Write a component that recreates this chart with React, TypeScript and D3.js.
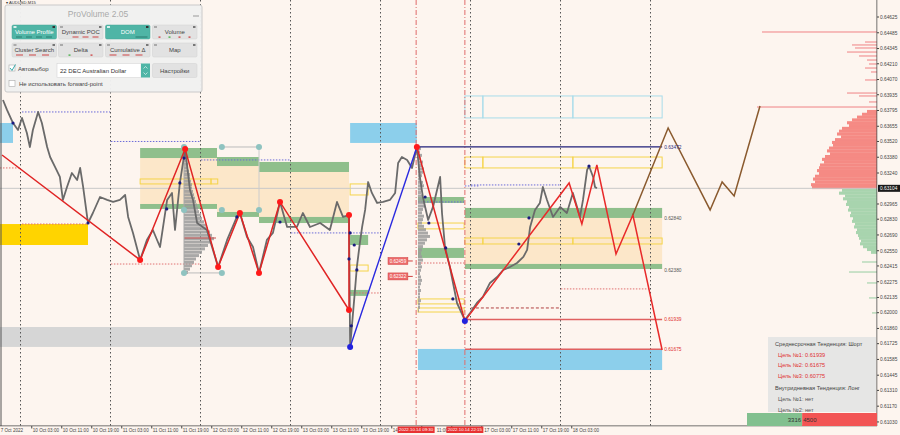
import React from 'react';
import * as d3 from 'd3';

// ---------- DATA ----------
const priceHours = [-4.67,-3.6,-2.0,-0.67,0.4,1.7,2.5,3.3,4.7,5.7,7.1,7.9,9.2,10.5,11.3,12.4,13.7,15.1,15.9,16.7,18.0,19.3,21.2,23.1,24.7,26.5,27.9,28.7,30.0,31.9,33.7,35.3,37.2,39.1,40.4,41.2,42.5,43.9,45.2,46.0,47.1,49.7,52.7,55.1,57.7,58.5,60.4,62.0,63.6,65.7,67.3,69.2,71.1,73.7,75.3,77.2,79.9,82.5,84.4,86.0,87.6,87.9,89.2,89.7,90.5,91.1,91.9,92.7,93.7,95.1,96.7,98.5,99.9,100.7,101.7,103.1,104.4,105.7,106.5,107.3,108.7,110.0,111.9,112.4,113.2,114.5,116.4,118.5,119.9,121.7,123.3,125.2,127.1,128.7,130.5,132.4,134.1,135.1,135.9,137.2,138.5,139.3,140.4,142.0,143.9,145.7,147.3,149.2,150.0,151.1,151.6,152.7,153.2,153.7];
const priceValues = [0.63888,0.63800,0.63684,0.63622,0.63729,0.63595,0.63471,0.63622,0.63782,0.63684,0.63471,0.63382,0.63294,0.63205,0.63001,0.63116,0.63240,0.63178,0.63285,0.63116,0.62796,0.62885,0.63027,0.63001,0.62983,0.63001,0.63045,0.62850,0.62708,0.62468,0.62646,0.62734,0.62583,0.63001,0.63063,0.62734,0.63152,0.63453,0.63089,0.63001,0.62796,0.62734,0.62406,0.62646,0.62850,0.62885,0.62672,0.62583,0.62353,0.62646,0.62708,0.62983,0.62761,0.62761,0.62885,0.62761,0.62796,0.62734,0.62983,0.62850,0.62867,0.61696,0.62202,0.62406,0.62619,0.62761,0.62912,0.63160,0.63063,0.62974,0.62983,0.63001,0.63063,0.63329,0.63382,0.63356,0.63285,0.63471,0.63205,0.63027,0.62823,0.62939,0.63205,0.62885,0.62583,0.62406,0.62086,0.61935,0.61998,0.62086,0.62140,0.62264,0.62317,0.62379,0.62406,0.62441,0.62495,0.62557,0.62761,0.62912,0.62974,0.63116,0.63001,0.62850,0.62939,0.62885,0.63063,0.62850,0.63001,0.63267,0.63302,0.63205,0.63116,0.63104];
const currentPrice = 0.63104;

const dayLineHours = [0,24,48,72,96,120,144,168];
const tickHours = [3,11,19,27,35,43,51,59,67,75,83,91,99,107,115,123,131,139,147];
const tickLabels = ["10 Oct 03:00","10 Oct 11:00","10 Oct 19:00","11 Oct 03:00","11 Oct 11:00","11 Oct 19:00","12 Oct 03:00","12 Oct 11:00","12 Oct 19:00","13 Oct 03:00","13 Oct 11:00","13 Oct 19:00","14","11:00","","17 Oct 03:00","17 Oct 11:00","17 Oct 19:00","18 Oct 03:00"];
const tickLabelShift = [1,1,1,1,1,1,1,1,1,1,1,1,1,15,1,2.5,1,1,1];
const firstLabel = "7 Oct 2022";
const firstLabelHour = -5.3;
const markerHours = [105.5, 118.5];
const markerLabels = ["2022.10.14 09:30", "2022.10.14 22:15"];

const priceTicks = [0.64625,0.64485,0.64345,0.64210,0.64070,0.63935,0.63795,0.63655,0.63520,0.63380,0.63240,0.62965,0.62830,0.62690,0.62550,0.62415,0.62275,0.62135,0.62000,0.61860,0.61725,0.61585,0.61445,0.61310,0.61170,0.61030];

// zones: [startHour, endHour, topPrice, bottomPrice]
const greenBands: number[][] = [
  [31.9,52.4,0.63462,0.63373],[31.9,52.4,0.62965,0.62921],
  [52.4,63.6,0.63382,0.63302],[52.4,63.6,0.62894,0.62850],
  [63.6,87.6,0.63338,0.63249],[63.6,87.6,0.62850,0.62796],
  [87.9,92.7,0.62690,0.62601],[87.9,92.7,0.62202,0.62149],
  [106.0,118.3,0.63027,0.62974],[106.0,118.3,0.62575,0.62486],
  [118.5,171.1,0.62930,0.62841],[118.5,171.1,0.62433,0.62388],
];
const beigeBands: number[][] = [
  [31.9,52.4,0.63373,0.62965],[52.4,63.6,0.63302,0.62894],[63.6,87.6,0.63249,0.62850],
  [118.5,171.1,0.62841,0.62433],
];
const yellowBoxes: number[][] = [
  [31.9,50.8,0.63187,0.63143],[50.8,52.6,0.63187,0.63143],
  [87.9,92.7,0.63143,0.63045],[87.9,92.7,0.62423,0.62370],
  [106.0,118.3,0.62796,0.62744],[106.0,118.3,0.62122,0.62078],[106.0,118.3,0.62042,0.62006],
  [118.5,123.3,0.63382,0.63285],[123.3,147.3,0.63382,0.63285],[147.3,171.1,0.63382,0.63285],
  [118.5,123.3,0.62663,0.62610],[123.3,147.3,0.62663,0.62610],[147.3,171.1,0.62663,0.62610],
];
const cyanBoxes: number[][] = [
  [118.5,123.3,0.63924,0.63729],[123.3,147.3,0.63924,0.63729],[147.3,171.1,0.63924,0.63729],
];
const blueRects: number[][] = [
  [-5.47,-2.0,0.63684,0.63507],[87.9,105.7,0.63684,0.63507],[106.0,171.1,0.61678,0.61491],
];
const goldRects: number[][] = [[-5.47,18.0,0.62787,0.62601]];
const grayRects: number[][] = [[-5.47,87.6,0.61873,0.61696]];

// dotted levels: [startHour, endHour, price]
const blueDotted: number[][] = [
  [0.4,23.9,0.63782],[24.1,47.9,0.63520],[48.1,71.9,0.63356],[72.1,87.4,0.62708],
  [87.9,96.0,0.62708],[106.0,118.3,0.62983],[118.5,122.5,0.63125],[120.1,143.9,0.63134],
];
const redDotted: number[][] = [
  [-5.47,-0.2,0.63285],[0.4,18.0,0.62787],[24.1,47.9,0.62432],[87.9,96.0,0.62175],
  [106.0,118.3,0.62441],[144.1,168.1,0.62211],
];
const darkRedDashed: number[][] = [[120.1,143.9,0.62042]];

// trend lines
const zigHours = [-4.93,31.9,43.9,52.7,58.5,63.6,69.2,87.6];
const zigPrices = [0.63400,0.62468,0.63453,0.62406,0.62885,0.62353,0.62983,0.62024];
const blueLegHours = [87.9,105.7];
const blueLegPrices = [0.61696,0.63471];
const downLegHours = [105.7,118.5];
const downLegPrices = [0.63471,0.61927];
const rightZigHours = [118.5,146.3,149.7,153.7,158.8,163.3,171.1];
const rightZigPrices = [0.61927,0.63152,0.62788,0.63311,0.62521,0.62867,0.61669];
const forecastHours = [163.3,172.7,183.9,187.1,190.3,197.2];
const forecastPrices = [0.62867,0.63640,0.62912,0.63160,0.63036,0.63835];

const redDotHours = [31.9,43.9,52.7,58.5,63.6,69.2,87.6,87.6,105.7];
const redDotPrices = [0.62468,0.63453,0.62406,0.62885,0.62353,0.62983,0.62867,0.62024,0.63471];
const blueDotHours = [87.9,118.5];
const blueDotPrices = [0.61696,0.61927];
const navyDotHours = [-2.0,18.0,39.0,42.5,43.6,57.7,69.2,87.9,87.6,89.7,89.0,88.2,107.9,108.9,113.4,115.3,132.9,135.6,151.6];
const navyDotPrices = [0.63684,0.62796,0.62921,0.63152,0.63373,0.62850,0.62805,0.62708,0.62477,0.62380,0.62601,0.61883,0.63027,0.62796,0.62575,0.62122,0.62610,0.62841,0.63302];
const circleHours = [43.6,53.7,63.6,43.6,53.7,63.6,43.6,53.7];
const circlePrices = [0.63471,0.63471,0.63471,0.62912,0.62912,0.62912,0.62353,0.62353];

const levelLineHours = [105.7,171.1];
const navyLevel = 0.63472;
const targetLevels = [0.61939, 0.61675];
const zoneLabels = [0.63472, 0.62840, 0.62380, 0.61939, 0.61675];
const redTagPrices = [0.62459, 0.62322];

// volume profiles (bins)
const vpTop = 0.6345, vpStep = 0.0003, vpHour = 43.6, vpPoc = 0.62663;
const vpVolumes = [2,2,3,3,4,4,5,6,6,7,8,8,9,10,11,12,13,14,15,17,18,20,22,24,26,28,30,27,24,21,18,15,12,10,8,6,4];
const vp2Top = 0.6347, vp2Step = 0.0003, vp2Hour = 106.0;
const vp2Volumes = [3,2,4,3,5,4,6,5,4,3,5,6,4,3,5,4,6,7,5,4,6,5,4,6,8,10,12,9,7,5,4,3,4,5,3,4,3,2,3,4,3,2,3,2,2,3,2,2,1];

const domSparsePrices = [0.64492,0.64403,0.64377,0.64350,0.64314,0.64279,0.64243,0.64208,0.64172,0.64137,0.64066,0.63950,0.63924,0.63871,0.63826];
const domSparseVols = [115,12,25,22,30,18,10,8,12,6,12,30,18,8,120];
const domAskTop = 0.6380, domStep = 0.00025;
const domAskVols = [10,15,20,25,30,28,35,38,40,36,42,45,44,48,50,47,52,55,53,57,58,60,58,62,64,62,66,65];
const domBidTop = 0.6310;
const domBidVols = [35,38,32,34,30,31,28,29,26,27,24,25,22,23,20,21,19,18,16,17,14,10,6];
const domBidSparsePrices = [0.62450,0.62361,0.62264,0.62131,0.61998];
const domBidSparseVols = [15,28,10,8,5];

const buyCount = 3316, sellCount = 4500;

const infoLines = [
  { t: "Среднесрочная Тенденция: Шорт", c: "#444", ind: 0 },
  { t: "Цель №1: 0.61939", c: "#e03030", ind: 3 },
  { t: "Цель №2: 0.61675", c: "#e03030", ind: 3 },
  { t: "Цель №3: 0.60775", c: "#e03030", ind: 3 },
  { t: "Внутридневная Тенденция: Лонг", c: "#444", ind: 0 },
  { t: "Цель №1: нет", c: "#555", ind: 3 },
  { t: "Цель №2: нет", c: "#555", ind: 3 },
];

const buttonsRow1 = ["Volume Profile", "Dynamic POC", "DOM", "Volume"];
const buttonsRow2 = ["Cluster Search", "Delta", "Cumulative Δ", "Map"];
const activeButtons = ["Volume Profile", "DOM"];

// ---------- SCALES ----------
const PR = 877, PB = 426;
const x = d3.scaleLinear().domain([-5.467, 228.4]).range([0, PR]);
const y = d3.scaleLinear().domain([0.60994, 0.64776]).range([PB, 0]);
const volW = d3.scaleLinear().domain([0, 100]).range([0, 100]);
const fmt = d3.format(".5f");

const FONT = "'Liberation Sans', Arial, sans-serif";

function rectsOf(list: number[][], fill: string, stroke?: string, key = "r") {
  return list.map((d, i) => (
    <rect key={key + i} x={x(d[0])} y={y(d[2])} width={x(d[1]) - x(d[0])} height={y(d[3]) - y(d[2])}
      fill={stroke ? "none" : fill} stroke={stroke || "none"} strokeWidth={stroke ? 1 : 0} />
  ));
}

export default function App() {
  const pricePts: [number, number][] = priceHours.map((h, i) => [h, priceValues[i]]);
  const line = d3.line<[number, number]>().x(d => x(d[0])).y(d => y(d[1]));
  const pair = (hs: number[], ps: number[]) => line(hs.map((h, i) => [h, ps[i]]) as [number, number][]) || "";

  const total = buyCount + sellCount;
  const cnt = d3.scaleLinear().domain([0, total]).range([747, PR]);

  const panelX = 5, panelY = 5;
  const btnW = 44.5;
  const btnXs = [12, 58.5, 105.5, 152.5];

  return (
    <svg width={900} height={435} style={{ position: 'absolute', left: 0, top: 0, fontFamily: FONT }}>
      <rect x={0} y={0} width={900} height={435} fill="#fdf5ef" />

      {/* DOM profile right */}
      {domSparsePrices.map((p, i) => (
        <rect key={"ds" + i} x={PR - volW(domSparseVols[i])} y={y(p) - 0.7} width={volW(domSparseVols[i])} height={1.4} fill="#f3a3a3" />
      ))}
      {domAskVols.map((v, i) => (
        <rect key={"da" + i} x={PR - volW(v)} y={y(domAskTop - i * domStep)} width={volW(v)} height={y(0) - y(domStep) + 0.3} fill="#f58a84" />
      ))}
      {domBidVols.map((v, i) => (
        <rect key={"db" + i} x={PR - volW(v)} y={y(domBidTop - i * domStep)} width={volW(v)} height={y(0) - y(domStep) + 0.3} fill="#a8d4ae" />
      ))}
      {domBidSparsePrices.map((p, i) => (
        <rect key={"dbs" + i} x={PR - volW(domBidSparseVols[i])} y={y(p) - 0.6} width={volW(domBidSparseVols[i])} height={1.2} fill="#a8d4ae" />
      ))}

      {/* zones */}
      {rectsOf(beigeBands, "#fce7c9", undefined, "be")}
      {rectsOf(greenBands, "#8fbf8c", undefined, "gb")}
      {rectsOf(blueRects, "#8ccfeb", undefined, "bl")}
      {rectsOf(goldRects, "#ffd400", undefined, "go")}
      {rectsOf(grayRects, "#d6d6d6", undefined, "gr")}
      {rectsOf(yellowBoxes, "", "#f5d44a", "yb")}
      {rectsOf(cyanBoxes, "", "#a8dcea", "cb")}

      {/* current price line */}
      <line x1={0} x2={PR} y1={y(currentPrice)} y2={y(currentPrice)} stroke="#c8c8c8" strokeWidth={1} />

      {/* dotted levels */}
      {blueDotted.map((d, i) => (
        <line key={"bd" + i} x1={x(d[0])} x2={x(d[1])} y1={y(d[2])} y2={y(d[2])} stroke="#6a6ad8" strokeWidth={1} strokeDasharray="1.5,1.5" />
      ))}
      {redDotted.map((d, i) => (
        <line key={"rd" + i} x1={x(d[0])} x2={x(d[1])} y1={y(d[2])} y2={y(d[2])} stroke="#e07070" strokeWidth={1} strokeDasharray="1.5,1.5" />
      ))}
      {darkRedDashed.map((d, i) => (
        <line key={"drd" + i} x1={x(d[0])} x2={x(d[1])} y1={y(d[2])} y2={y(d[2])} stroke="#b04040" strokeWidth={1} strokeDasharray="3,2" />
      ))}

      {/* vertical day lines */}
      {dayLineHours.map((h, i) => (
        <line key={"dl" + i} x1={x(h)} x2={x(h)} y1={0} y2={PB} stroke="#555" strokeWidth={1} strokeDasharray="1.5,2.5" />
      ))}
      {markerHours.map((h, i) => (
        <line key={"mh" + i} x1={x(h)} x2={x(h)} y1={0} y2={PB} stroke="#e06a6a" strokeWidth={1} strokeDasharray="5,2,1,2" />
      ))}

      {/* volume profiles */}
      {vpVolumes.map((v, i) => (
        <rect key={"vp" + i} x={x(vpHour)} y={y(vpTop - i * vpStep)} width={volW(v)} height={y(0) - y(vpStep) - 0.4} fill="#9a9a9a" opacity={0.85} />
      ))}
      <line x1={x(vpHour)} x2={x(vpHour) + volW(32)} y1={y(vpPoc)} y2={y(vpPoc)} stroke="#c85050" strokeWidth={1.2} />
      {vp2Volumes.map((v, i) => (
        <rect key={"vp2" + i} x={x(vp2Hour)} y={y(vp2Top - i * vp2Step)} width={volW(v)} height={y(0) - y(vp2Step) - 0.4} fill="#9a9a9a" opacity={0.85} />
      ))}

      {/* range circle markers */}
      <line x1={x(circleHours[1])} x2={x(circleHours[2])} y1={y(circlePrices[1])} y2={y(circlePrices[2])} stroke="#bbb" />
      <line x1={x(circleHours[2])} x2={x(circleHours[5])} y1={y(circlePrices[2])} y2={y(circlePrices[5])} stroke="#ccc" />
      <line x1={x(circleHours[6])} x2={x(circleHours[7])} y1={y(circlePrices[6])} y2={y(circlePrices[7])} stroke="#bbb" />
      <line x1={x(circleHours[0])} x2={x(circleHours[6])} y1={y(circlePrices[0])} y2={y(circlePrices[6])} stroke="#aaa" />
      {circleHours.map((h, i) => (
        <circle key={"ci" + i} cx={x(h)} cy={y(circlePrices[i])} r={3} fill="#8fc3c0" />
      ))}

      {/* price */}
      <path d={line(pricePts) || ""} fill="none" stroke="#6a6a6a" strokeWidth={1.8} strokeLinejoin="round" />

      {/* trend lines */}
      <path d={pair(zigHours, zigPrices)} fill="none" stroke="#e02424" strokeWidth={1.5} />
      <line x1={x(87.6)} x2={x(87.6)} y1={y(0.62867)} y2={y(0.62024)} stroke="#e02424" strokeWidth={1.5} />
      <path d={pair(blueLegHours, blueLegPrices)} fill="none" stroke="#2a2ae0" strokeWidth={1.4} />
      <path d={pair(downLegHours, downLegPrices)} fill="none" stroke="#e02424" strokeWidth={1.5} />
      <line x1={x(levelLineHours[0])} x2={x(levelLineHours[1])} y1={y(navyLevel)} y2={y(navyLevel)} stroke="#1f1f7a" strokeWidth={1.2} />
      {targetLevels.map((p, i) => (
        <line key={"tl" + i} x1={x(118.5)} x2={x(levelLineHours[1])} y1={y(p)} y2={y(p)} stroke="#e06060" strokeWidth={1.6} />
      ))}
      <path d={pair(rightZigHours, rightZigPrices)} fill="none" stroke="#e82a2a" strokeWidth={1.5} />
      <path d={pair(forecastHours, forecastPrices)} fill="none" stroke="#8a5a2e" strokeWidth={1.5} />

      {/* dots */}
      {navyDotHours.map((h, i) => (
        <circle key={"nd" + i} cx={x(h)} cy={y(navyDotPrices[i])} r={1.6} fill="#1a1a80" />
      ))}
      {redDotHours.map((h, i) => (
        <circle key={"rdt" + i} cx={x(h)} cy={y(redDotPrices[i])} r={3} fill="#ff1a1a" />
      ))}
      {blueDotHours.map((h, i) => (
        <circle key={"bdt" + i} cx={x(h)} cy={y(blueDotPrices[i])} r={3} fill="#2222dd" />
      ))}

      {/* zone labels */}
      {zoneLabels.map((p, i) => (
        <text key={"zl" + i} x={x(171.1) + 2} y={y(p) + 1.8} fontSize={4.8}
          fill={i === 0 ? "#2a2a7a" : p < 0.62 ? "#e03030" : "#555"}>{fmt(p)}</text>
      ))}
      {redTagPrices.map((p, i) => (
        <g key={"rt" + i}>
          <rect x={x(98.0)} y={y(p) - 3.5} width={x(103.3) - x(98.0)} height={7} fill="#ec6a6a" stroke="#d04040" strokeWidth={0.5} />
          <line x1={x(103.3)} x2={x(104.6)} y1={y(p)} y2={y(p)} stroke="#d04040" />
          <text x={(x(98.0) + x(103.3)) / 2} y={y(p) + 1.8} fontSize={4.6} fill="#fff" textAnchor="middle">{fmt(p)}</text>
        </g>
      ))}

      {/* axes frame */}
      <line x1={1} x2={1} y1={0} y2={PB} stroke="#555" />
      <line x1={PR} x2={PR} y1={0} y2={PB} stroke="#444" />
      <line x1={0} x2={PR} y1={PB} y2={PB} stroke="#444" />
      <rect x={PR + 0.5} y={0} width={900 - PR} height={435} fill="#fdf5ef" />
      <rect x={0} y={PB + 0.5} width={PR} height={435 - PB} fill="#fdf5ef" />

      {priceTicks.map((p, i) => (
        <g key={"pt" + i}>
          <line x1={PR} x2={PR + 2} y1={y(p)} y2={y(p)} stroke="#444" />
          <text x={PR + 3} y={y(p) + 1.8} fontSize={4.8} fill="#444">{fmt(p)}</text>
        </g>
      ))}
      <rect x={PR + 1} y={y(currentPrice) - 3.5} width={22} height={7} fill="#1a1a1a" />
      <text x={PR + 3} y={y(currentPrice) + 1.8} fontSize={4.8} fill="#fff">{fmt(currentPrice)}</text>

      <text x={x(firstLabelHour)} y={PB + 5.6} fontSize={4.6} fill="#444">{firstLabel}</text>
      {tickHours.map((h, i) => (
        <g key={"tk" + i}>
          <line x1={x(h)} x2={x(h)} y1={PB} y2={PB + 2.5} stroke="#444" />
          {tickLabels[i] ? <text x={x(h) + tickLabelShift[i]} y={PB + 5.6} fontSize={4.6} fill="#444">{tickLabels[i]}</text> : null}
        </g>
      ))}
      {markerHours.map((h, i) => (
        <g key={"mk" + i}>
          <rect x={x(h) - 18.5} y={PB + 0.5} width={37} height={6.5} fill="#e83232" />
          <text x={x(h)} y={PB + 5.4} fontSize={4.4} fill="#fff" textAnchor="middle">{markerLabels[i]}</text>
        </g>
      ))}

      {/* counts bar */}
      <rect x={cnt(0)} y={413} width={cnt(buyCount) - cnt(0)} height={PB - 413} fill="#82c08f" />
      <rect x={cnt(buyCount)} y={413} width={cnt(total) - cnt(buyCount)} height={PB - 413} fill="#f25454" />
      <text x={cnt(buyCount) - 1} y={421.5} fontSize={6} fill="#333" textAnchor="end">{buyCount}</text>
      <text x={cnt(buyCount) + 1} y={421.5} fontSize={6} fill="#333">{sellCount}</text>

      {/* info box */}
      <rect x={768} y={337} width={108} height={75} fill="#e4e4e4" opacity={0.92} />
      {infoLines.map((l, i) => (
        <text key={"il" + i} x={775 + l.ind} y={346 + i * 10.6 + (i >= 4 ? 2 : 0)} fontSize={5.6} fill={l.c}>{l.t}</text>
      ))}

      {/* top-left symbol */}
      <text x={6} y={4.2} fontSize={4.2} fill="#333">▾ AUDUSD,M15</text>

      {/* panel */}
      <g>
        <rect x={panelX} y={panelY} width={197} height={87} rx={2} fill="#f1f1f1" stroke="#c9c9c9" opacity={0.97} />
        <text x={98} y={16.5} fontSize={8.5} fill="#aaa" textAnchor="middle">ProVolume 2.05</text>
        <line x1={193} x2={199} y1={16} y2={16} stroke="#999" strokeWidth={1} />
        {[buttonsRow1, buttonsRow2].map((row, r) => row.map((b, j) => {
          const active = activeButtons.includes(b);
          const by = r === 0 ? 25 : 43;
          return (
            <g key={"b" + r + j}>
              <rect x={btnXs[j]} y={by} width={btnW} height={14} rx={1.5} fill={active ? "#4fb5a6" : "#e2e2e2"} stroke={active ? "#46a596" : "#d0d0d0"} strokeWidth={0.5} />
              <text x={btnXs[j] + btnW / 2} y={by + 9} fontSize={6} fill={active ? "#fff" : "#444"} textAnchor="middle">{b}</text>
              <rect x={btnXs[j] + 1.5} y={by + 1} width={3} height={2} fill={active ? "#d8f0ec" : "#aaa"} />
              <rect x={btnXs[j] + btnW - 4} y={by + 1} width={2.5} height={2} fill={active ? "#333" : "#777"} />
              {r === 0 && j === 3 ? [0, 1, 2, 3].map(k => <rect key={k} x={btnXs[j] + 6 + k * 10} y={by + 11.5} width={2} height={1.2} fill={k === 1 ? "#3a3" : "#c33"} />) : null}
              {r === 0 && j === 0 ? [0, 1, 2, 3].map(k => <rect key={k} x={btnXs[j] + 4 + k * 10} y={by + 11.5} width={6} height={1} fill="#2d7d71" />) : null}
              {r === 0 && j === 1 ? [0, 1, 2].map(k => <rect key={k} x={btnXs[j] + 14 + k * 10} y={by + 11.5} width={6} height={1} fill="#c44" />) : null}
              {r === 0 && j === 2 ? <rect x={btnXs[j] + 30} y={by + 11.5} width={12} height={1} fill="#2d7d71" /> : null}
              {r === 1 && j === 0 ? [0, 1, 2].map(k => <rect key={k} x={btnXs[j] + 4 + k * 13} y={by + 11.5} width={7} height={1} fill="#c44" />) : null}
              {r === 1 && j === 1 ? <g><rect x={btnXs[j] + 10} y={by + 11.5} width={2} height={1.2} fill="#3a3" /><rect x={btnXs[j] + 32} y={by + 11.5} width={2} height={1.2} fill="#c33" /></g> : null}
              {r === 1 && j === 2 ? [0, 1, 2].map(k => <rect key={k} x={btnXs[j] + 4 + k * 13} y={by + 11.5} width={7} height={1} fill="#c44" />) : null}
            </g>
          );
        }))}
        <rect x={9} y={65} width={6} height={6} fill="#fff" stroke="#aaa" strokeWidth={0.6} />
        <path d="M10,68 L12,70.5 L15.5,64.5" fill="none" stroke="#3aa" strokeWidth={1} />
        <text x={18} y={71} fontSize={6} fill="#444">Автовыбор</text>
        <rect x={57} y={63.5} width={84} height={14} fill="#fff" stroke="#d0d0d0" strokeWidth={0.5} />
        <text x={60} y={72.5} fontSize={6} fill="#333">22 DEC Australian Dollar</text>
        <rect x={141} y={63.5} width={9} height={14} fill="#4fb5a6" />
        <path d="M143.5,68.5 L145.5,66.5 L147.5,68.5 M143.5,72.5 L145.5,74.5 L147.5,72.5" fill="none" stroke="#fff" strokeWidth={0.6} />
        <rect x={152.5} y={63.5} width={btnW} height={14} rx={1.5} fill="#e2e2e2" stroke="#d0d0d0" strokeWidth={0.5} />
        <text x={152.5 + btnW / 2} y={72.5} fontSize={6} fill="#444" textAnchor="middle">Настройки</text>
        <rect x={9} y={80.5} width={6} height={6} fill="#fff" stroke="#aaa" strokeWidth={0.6} />
        <text x={19} y={86} fontSize={6} fill="#444">Не использовать forward-point</text>
      </g>
    </svg>
  );
}
